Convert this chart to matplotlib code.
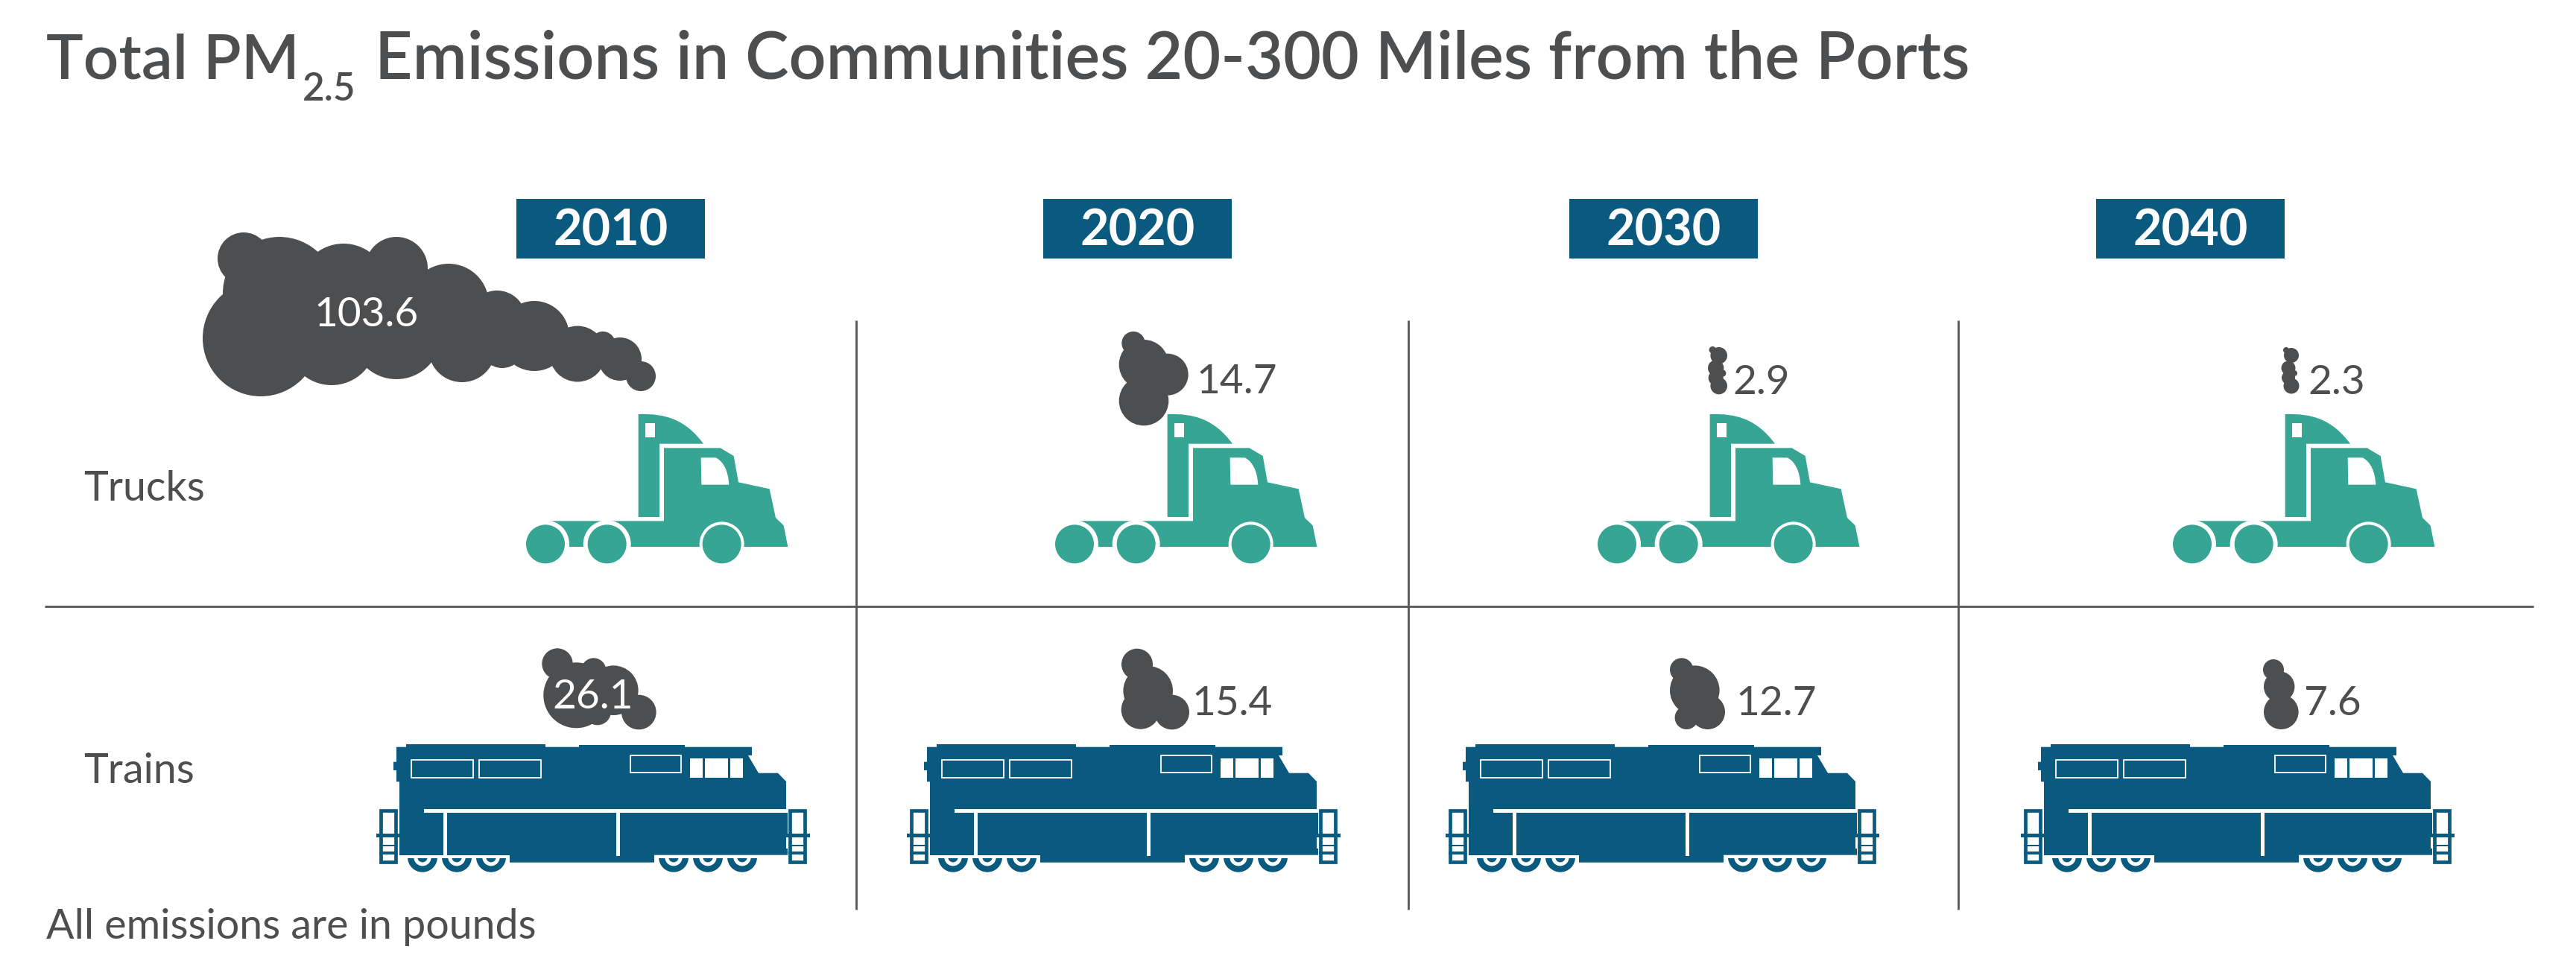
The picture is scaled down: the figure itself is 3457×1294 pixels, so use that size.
import matplotlib
matplotlib.use("Agg")
from matplotlib import pyplot as plt
from matplotlib import patches
from matplotlib.path import Path

years = [2010, 2020, 2030, 2040]
truck_values = [103.6, 14.7, 2.9, 2.3]
train_values = [26.1, 15.4, 12.7, 7.6]
row_labels = ["Trucks", "Trains"]

GREY = "#4d4e50"
BLUE = "#0a5a80"
TEAL = "#37a593"
LINE = "#55565a"

# smoke puffs, (x, y, r) in pixels
truck_smoke = [
    [(350, 454, 78), (327, 347, 35), (375, 394, 76), (461, 387, 60), (445, 457, 60),
     (532, 360, 42), (532, 449, 60), (602, 408, 54), (620, 468, 45), (667, 429, 39),
     (674, 464, 30), (717, 451, 47), (775, 475, 37.5), (809, 462, 17), (832, 482, 29),
     (860, 505, 20), (500, 420, 50)],
    [(1521, 460.7, 15.7), (1535, 489.3, 33.3), (1566.7, 502.7, 28), (1535, 538, 33.3)],
    [(2298.3, 469.7, 4.7), (2306.7, 477.3, 11.3), (2302.7, 494, 10.7), (2311.7, 501, 4.7),
     (2302.7, 507.3, 10), (2306.7, 518, 11.3)],
    [(3068, 470, 4), (3075, 477, 10), (3071, 494, 9.5), (3079, 501, 4), (3071, 507, 9),
     (3075, 518, 10.5)],
]
train_smoke = [
    [(748, 891, 20.7), (796.7, 900, 16.7), (823.3, 926.7, 33.3), (773.3, 933.3, 44),
     (801.7, 955, 18.3), (857.3, 956, 23.3)],
    [(1526, 891.7, 21), (1540.7, 927.3, 33.3), (1530.7, 952.7, 26), (1572.7, 956, 23.3)],
    [(2256.7, 899, 15.7), (2274.3, 926.7, 33.3), (2263.3, 963.3, 15.7), (2291.7, 955.7, 23.3)],
    [(3051, 899, 14), (3058.7, 921.7, 20.7), (3061.3, 955.7, 23.3)],
]
truck_dx = [0, 710, 1438, 2210]
train_dx = [0, 712, 1435, 2207]
box_x = [693, 1400, 2106, 2813]
truck_label_pos = [(421, 438), (1605, 528), (2325, 529), (3097, 529)]
train_label_pos = [(741, 951), (1599, 960), (2329, 960), (3092, 960)]

plt.rcParams["font.family"] = ["Lato", "DejaVu Sans"]
fig = plt.figure(figsize=(34.57, 12.94), dpi=100)
ax = fig.add_axes([0, 0, 1, 1])
ax.set_xlim(0, 3457)
ax.set_ylim(1294, 0)
ax.axis("off")


def draw_smoke(puffs):
    for x, y, r in puffs:
        ax.add_patch(patches.Circle((x, y), r, fc=GREY, ec="none", zorder=2))


def t_xy(pts, dx):
    # truck outline was measured on a 3x crop starting at (680,530)
    return [(680 + p[0] / 3 + dx, 530 + p[1] / 3) for p in pts]


def draw_truck(dx):
    body = [(153, 508), (633, 508), (633, 214), (860, 214), (914, 246), (933, 352), (1058, 379),
            (1083, 495), (1115, 526), (1132, 612), (153, 612)]
    ax.add_patch(patches.Polygon(t_xy(body, dx), fc=TEAL, ec="none", zorder=2))
    sleeper = t_xy([(530, 78), (640, 74), (720, 100), (792, 197), (615, 197), (615, 492), (530, 492), (530, 78)], dx)
    codes = [Path.MOVETO, Path.CURVE4, Path.CURVE4, Path.CURVE4, Path.LINETO, Path.LINETO, Path.LINETO, Path.CLOSEPOLY]
    ax.add_patch(patches.PathPatch(Path(sleeper, codes), fc=TEAL, ec="none", zorder=2))
    win = t_xy([(782, 253), (842, 253), (875, 270), (892, 310), (895, 362), (784, 362), (782, 253)], dx)
    codes = [Path.MOVETO, Path.LINETO, Path.CURVE4, Path.CURVE4, Path.CURVE4, Path.LINETO, Path.CLOSEPOLY]
    ax.add_patch(patches.PathPatch(Path(win, codes), fc="white", ec="none", zorder=3))
    ax.add_patch(patches.Polygon(t_xy([(558, 114), (596, 114), (596, 170), (558, 170)], dx), fc="white", ec="none", zorder=3))
    for cx, ring in [(156, 96), (404, 96), (866, 90)]:
        c = t_xy([(cx, 601)], dx)[0]
        ax.add_patch(patches.Circle(c, ring / 3, fc="white", ec="none", zorder=3))
        ax.add_patch(patches.Circle(c, 26, fc=TEAL, ec="none", zorder=4))


def rect(x0, y0, x1, y1, color, z=3):
    ax.add_patch(patches.Rectangle((x0, y0), x1 - x0, y1 - y0, fc=color, ec="none", zorder=z))


def draw_train(dx):
    hull = [(545, 999), (732, 999), (732, 1002.7), (777, 1002.7), (777, 1000), (919, 1000), (919, 1002.7),
            (1009, 1002.7), (1009, 1014), (1004, 1014), (1018, 1037.7), (1044, 1037.7), (1055, 1049),
            (1055, 1086), (1057, 1086), (1057, 1147.7), (878, 1147.7), (878, 1157.7), (684, 1157.7), (684, 1148),
            (536, 1148), (536, 1049.3), (532, 1049.3), (532, 1034), (528, 1034), (528, 1022.7),
            (532, 1022.7), (532, 1002.7), (545, 1002.7)]
    ax.add_patch(patches.Polygon([(x + dx, y) for x, y in hull], fc=BLUE, ec="none", zorder=2))

    # outlined and white windows
    for x0, y0, x1, y1 in [(552.5, 1019.5, 635.5, 1043.5), (643.5, 1019.5, 726.5, 1043.5), (846.5, 1013.5, 914.5, 1037)]:
        ax.add_patch(patches.Rectangle((x0 + dx, y0), x1 - x0, y1 - y0, fc="none", ec="white", lw=1.3, zorder=3))
    for x0, x1 in [(926.3, 943.3), (946, 977.3), (980, 997)]:
        rect(x0 + dx, 1018, x1 + dx, 1044.3, "white")

    # white trim
    rect(569 + dx, 1086, 1057 + dx, 1090.7, "white")
    rect(595.3 + dx, 1090, 600 + dx, 1148, "white")
    rect(827.3 + dx, 1090, 832 + dx, 1149.3, "white")
    rect(1055 + dx, 1124, 1057.5 + dx, 1139, "white")

    # ladders at each end
    for lx, bar0, bar1 in [(509, 505, 536), (1057.7, 1055, 1086.7)]:
        ax.add_patch(patches.Rectangle((lx + 2.3 + dx, 1088), 19.6, 69.4, fc="white", ec=BLUE, lw=3.4, zorder=4))
        rect(bar0 + dx, 1119.3, bar1 + dx, 1124.3, BLUE, 5)
        rect(lx + dx, 1134, lx + 24 + dx, 1136.3, BLUE, 5)
        rect(lx + dx, 1143.3, lx + 24 + dx, 1147.3, BLUE, 5)

    # half wheels below the hull
    for wx in [567, 613, 659, 904, 950, 996]:
        clip = patches.Rectangle((wx + dx - 25, 1152.3), 50, 25, transform=ax.transData)
        for r, col in [(20, BLUE), (11.7, "white"), (6.7, BLUE)]:
            w = patches.Circle((wx + dx, 1150.7), r, fc=col, ec="none", zorder=3)
            ax.add_patch(w)
            w.set_clip_path(clip)


# grid lines
ax.plot([60, 3400], [813.5, 813.5], color=LINE, lw=2, solid_capstyle="butt")
for vx in [1149, 1890, 2628]:
    ax.plot([vx, vx], [430, 1221], color=LINE, lw=2, solid_capstyle="butt")

# title, subscript drawn as its own text
ax.text(62, 106, "Total PM", fontsize=60, fontweight="semibold", color=GREY, va="baseline")
ax.text(406, 135, "2.5", fontsize=37, fontweight="semibold", color=GREY, va="baseline")
ax.text(503, 106, "Emissions in Communities 20-300 Miles from the Ports", fontsize=63.3,
        fontweight="semibold", color=GREY, va="baseline")

for i, yr in enumerate(years):
    rect(box_x[i], 267, box_x[i] + 253, 347, BLUE)
    ax.text(box_x[i] + 127, 330, str(yr), fontsize=48, fontweight="bold", color="white",
            ha="center", va="baseline", zorder=5)

for i in range(len(years)):
    draw_truck(truck_dx[i])
    draw_train(train_dx[i])
    draw_smoke(truck_smoke[i])
    draw_smoke(train_smoke[i])
    # the two biggest clouds hold their number in white
    ax.text(truck_label_pos[i][0], truck_label_pos[i][1], str(truck_values[i]), fontsize=39.5,
            color="white" if i == 0 else GREY, va="baseline", zorder=6)
    ax.text(train_label_pos[i][0], train_label_pos[i][1], str(train_values[i]), fontsize=39.5,
            color="white" if i == 0 else GREY, va="baseline", zorder=6)

ax.text(112, 672, row_labels[0], fontsize=40, color=GREY, va="baseline")
ax.text(112, 1051, row_labels[1], fontsize=40, color=GREY, va="baseline")
ax.text(62, 1260, "All emissions are in pounds", fontsize=40, color=GREY, va="baseline")

fig.savefig("out.png", dpi=100)
